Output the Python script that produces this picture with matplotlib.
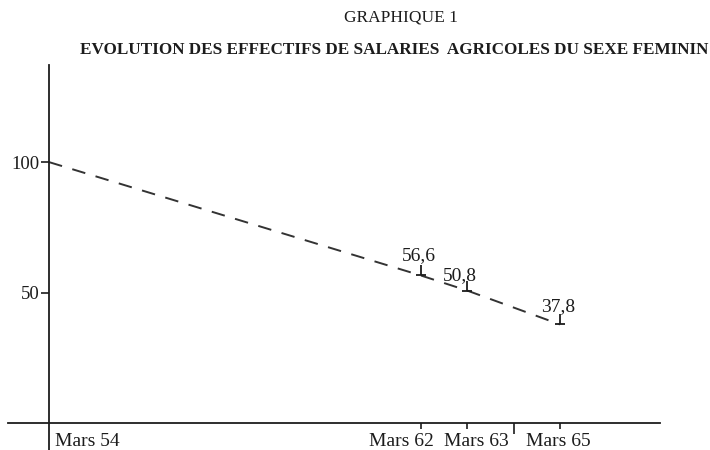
import matplotlib.pyplot as plt
from matplotlib.ticker import FixedLocator, NullFormatter

# data
years = [54, 62, 63, 65]
index = [100, 56.6, 50.8, 37.8]
point_labels = ['56,6', '50,8', '37,8']
tick_labels = ['Mars 54', 'Mars 62', 'Mars 63', 'Mars 65']

plt.rcParams['font.family'] = ['Liberation Serif', 'DejaVu Serif']
ink = '#1c1c1c'

fig = plt.figure(figsize=(7.1, 4.5), dpi=100)
ax = fig.add_axes([8 / 710, 0.0, 652 / 710, 385 / 450])

ax.set_xlim(53.117, 67.154)
ax.set_ylim(-10.3, 137.2)

for s in ['top', 'right']:
    ax.spines[s].set_visible(False)
ax.spines['left'].set_position(('data', 54))
ax.spines['bottom'].set_position(('data', 0))
for s in ['left', 'bottom']:
    ax.spines[s].set_color(ink)
    ax.spines[s].set_linewidth(1.3)

# dashed evolution line
ax.plot(years, index, color='#333333', lw=1.4, ls=(0, (7, 5.5)))
# little "L" marks at the labelled points
ax.plot(years[1:], index[1:], ls='none', marker=2, ms=7, mew=1.3, color=ink)
ax.plot(years[1:], index[1:], ls='none', marker='_', ms=7, mew=1.3, color=ink)

# y ticks
ax.set_yticks([50, 100])
ax.set_yticklabels(['50', '100'])
ax.tick_params(axis='y', direction='out', length=6, width=1.2, pad=1,
               labelsize=13.5, colors=ink)

# x ticks (labels drawn by hand below)
ax.xaxis.set_major_locator(FixedLocator(years[1:]))
ax.xaxis.set_major_formatter(NullFormatter())
ax.xaxis.set_minor_locator(FixedLocator([64]))
ax.tick_params(axis='x', which='major', direction='out', length=4, width=1.2, colors=ink)
ax.tick_params(axis='x', which='minor', direction='out', length=8, width=1.2, colors=ink)

x_offsets = [4, -14, 6.5, -1.5]
aligns = ['left', 'center', 'center', 'center']
for yr, lab, dx, ha in zip(years, tick_labels, x_offsets, aligns):
    ax.annotate(lab, xy=(yr, 0), xytext=(dx, -13), textcoords='offset points',
                ha=ha, va='center', fontsize=14, color=ink)

lab_offsets = [(-1, 14), (-5, 10.5), (-1, 13)]
for yr, v, lab, off in zip(years[1:], index[1:], point_labels, lab_offsets):
    ax.annotate(lab, xy=(yr, v), xytext=off, textcoords='offset points',
                ha='center', va='center', fontsize=14, color=ink)

fig.text(401 / 710, 1 - 18 / 450, 'GRAPHIQUE 1', ha='center', va='center',
         fontsize=12.5, color=ink)
fig.text(394 / 710, 1 - 50 / 450,
         'EVOLUTION DES EFFECTIFS DE SALARIES  AGRICOLES DU SEXE FEMININ',
         ha='center', va='center', fontsize=12.3, fontweight='bold', color=ink)

fig.savefig('out.png', dpi=100)
